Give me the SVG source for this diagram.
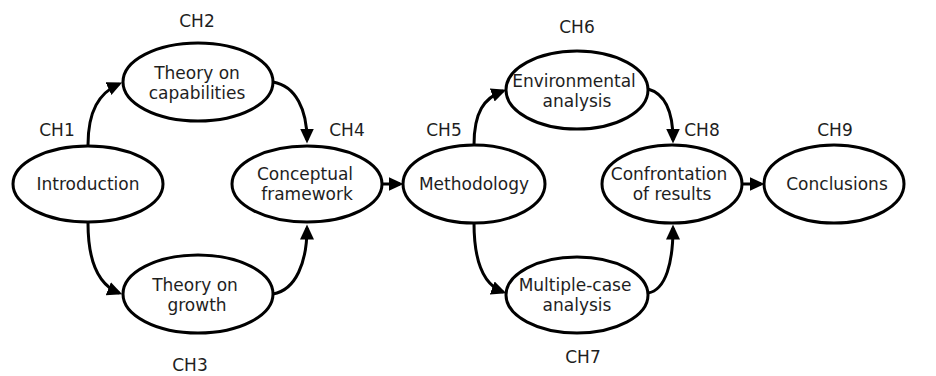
<svg xmlns="http://www.w3.org/2000/svg" width="936" height="376" viewBox="0 0 936 376">
  <style>
    .node ellipse { fill: #ffffff; stroke: #000000; stroke-width: 3; }
    .label { font-family: "DejaVu Sans", Verdana, sans-serif; font-size: 17px; fill: #1e1e1e; text-anchor: middle; }
    .edge { fill: none; stroke: #000000; stroke-width: 3; marker-end: url(#arrow); }
  </style>
  <defs>
    <marker id="arrow" markerUnits="userSpaceOnUse" markerWidth="16" markerHeight="16" refX="11.5" refY="7" orient="auto">
      <path d="M0,0 L15,7 L0,14 Z" fill="#000000"/>
    </marker>
  </defs>

  <rect width="936" height="376" fill="#ffffff"/>

  <!-- chapter numbers -->
  <g id="chapter-labels" class="label">
    <text x="57" y="136">CH1</text>
    <text x="197" y="27">CH2</text>
    <text x="190" y="371">CH3</text>
    <text x="347" y="136">CH4</text>
    <text x="444" y="136">CH5</text>
    <text x="577" y="33">CH6</text>
    <text x="583" y="363">CH7</text>
    <text x="702" y="136">CH8</text>
    <text x="835" y="136">CH9</text>
  </g>

  <!-- connectors -->
  <g id="connectors">
    <path class="edge" d="M88,145 C88,111 99,93 119,84"/>
    <path class="edge" d="M273,82 C296,86 307,110 307,140"/>
    <path class="edge" d="M88,223 C88,262 99,285 119,293"/>
    <path class="edge" d="M273,294 C296,290 307,262 307,228"/>
    <path class="edge" d="M382,184 L400,184"/>
    <path class="edge" d="M474,145 C474,112 484,98 503,91"/>
    <path class="edge" d="M648,89 C666,94 673,112 673,140"/>
    <path class="edge" d="M474,223 C474,262 484,285 503,292"/>
    <path class="edge" d="M648,293 C666,290 673,262 673,228"/>
    <path class="edge" d="M742,184 L761,184"/>
  </g>

  <!-- nodes -->
  <g id="introduction" class="node">
    <ellipse cx="88" cy="184" rx="75" ry="38"/>
    <text class="label" x="88" y="190">Introduction</text>
  </g>
  <g id="theory-capabilities" class="node">
    <ellipse cx="198" cy="82" rx="75" ry="39"/>
    <text class="label" x="197" y="79">Theory on</text>
    <text class="label" x="197" y="99">capabilities</text>
  </g>
  <g id="theory-growth" class="node">
    <ellipse cx="198" cy="294" rx="75" ry="39"/>
    <text class="label" x="195" y="291">Theory on</text>
    <text class="label" x="197" y="311">growth</text>
  </g>
  <g id="conceptual-framework" class="node">
    <ellipse cx="307" cy="184" rx="75" ry="38"/>
    <text class="label" x="305" y="180">Conceptual</text>
    <text class="label" x="307" y="200">framework</text>
  </g>
  <g id="methodology" class="node">
    <ellipse cx="474" cy="184" rx="71" ry="39"/>
    <text class="label" x="474" y="190">Methodology</text>
  </g>
  <g id="environmental-analysis" class="node">
    <ellipse cx="577" cy="90" rx="71" ry="39"/>
    <text class="label" x="574" y="87">Environmental</text>
    <text class="label" x="577" y="107">analysis</text>
  </g>
  <g id="multiple-case-analysis" class="node">
    <ellipse cx="577" cy="295" rx="71" ry="38"/>
    <text class="label" x="575" y="291">Multiple-case</text>
    <text class="label" x="577" y="311">analysis</text>
  </g>
  <g id="confrontation-results" class="node">
    <ellipse cx="672" cy="184" rx="70" ry="39"/>
    <text class="label" x="669" y="180">Confrontation</text>
    <text class="label" x="672" y="200">of results</text>
  </g>
  <g id="conclusions" class="node">
    <ellipse cx="834" cy="184" rx="70" ry="39"/>
    <text class="label" x="837" y="190">Conclusions</text>
  </g>
</svg>
